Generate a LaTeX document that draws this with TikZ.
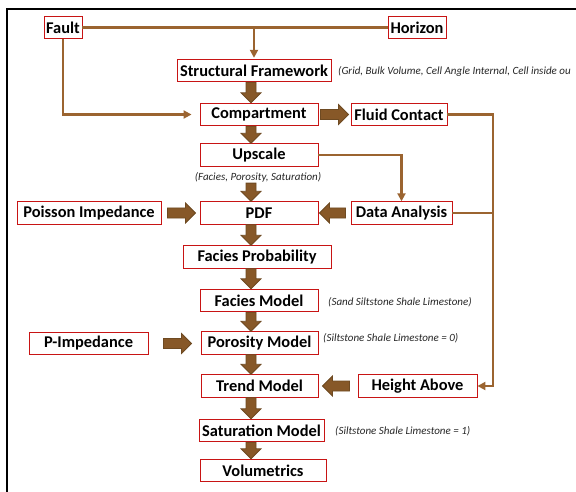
\documentclass[tikz,border=0pt]{standalone}
\usepackage{fontspec}
\setmainfont{Carlito}
\usetikzlibrary{arrows.meta,calc}
\definecolor{boxred}{RGB}{200,20,20}
\definecolor{lnbrown}{RGB}{155,100,48}
\definecolor{fatfill}{RGB}{135,88,40}
\definecolor{fatedge}{RGB}{110,74,34}
\newcommand\fatdown[2]{\filldraw[fatarrow] let \p1=(#1), \p2=(#2) in
  (\x1-5pt,\y1) -- (\x1+5pt,\y1) -- (\x1+5pt,\y2+10pt) -- (\x1+10pt,\y2+10pt) --
  (\x1,\y2) -- (\x1-10pt,\y2+10pt) -- (\x1-5pt,\y2+10pt) -- cycle;}
\newcommand\fatright[2]{\filldraw[fatarrow] let \p1=(#1), \p2=(#2) in
  (\x1,\y1+5pt) -- (\x2-10pt,\y1+5pt) -- (\x2-10pt,\y1+10pt) -- (\x2,\y1) --
  (\x2-10pt,\y1-10pt) -- (\x2-10pt,\y1-5pt) -- (\x1,\y1-5pt) -- cycle;}
\newcommand\fatleft[2]{\filldraw[fatarrow] let \p1=(#1), \p2=(#2) in
  (\x1,\y1+5pt) -- (\x2+10pt,\y1+5pt) -- (\x2+10pt,\y1+10pt) -- (\x2,\y1) --
  (\x2+10pt,\y1-10pt) -- (\x2+10pt,\y1-5pt) -- (\x1,\y1-5pt) -- cycle;}
\begin{document}
\begin{tikzpicture}[x=1pt,y=-1pt,
  box/.style={draw=boxred, line width=0.9pt, fill=white, inner sep=0pt,
    minimum height=22.5pt, font=\bfseries\fontsize{16.4}{18}\selectfont},
  note/.style={inner sep=0pt, font=\itshape\fontsize{11}{13}\selectfont, text=black!85},
  thinline/.style={draw=lnbrown, line width=2.7pt},
  thinarrow/.style={thinline, -{Triangle[length=8pt,width=8pt]}},
  fatarrow/.style={fill=fatfill, draw=fatedge, line width=0.8pt, line join=miter}]
\useasboundingbox (0,0) rectangle (576,492);
\draw[line width=2pt] (7,492) -- (7,9) -- (576,9);
\coordinate (spine) at (251,0);
\coordinate (bus) at (493,0);
% boxes
\node[box, minimum width=38pt] (fault) at (63,27.5) {Fault};
\node[box, minimum width=58pt] (hor) at (417,27.5) {Horizon};
\node[box, minimum width=154pt] (sf) at (254,70.5) {Structural Framework};
\node[box, minimum width=118pt] (comp) at (259,114.5) {Compartment};
\node[box, minimum width=96pt] (fc) at (399,114.5) {Fluid Contact};
\node[box, minimum width=118pt] (up) at (259,155) {Upscale};
\node[box, minimum width=118pt] (pdf) at (259,213) {PDF};
\node[box, minimum width=144pt] (poi) at (89,213) {Poisson Impedance};
\node[box, minimum width=101pt] (da) at (401.5,213) {Data Analysis};
\node[box, minimum width=148pt] (fp) at (257,257) {Facies Probability};
\node[box, minimum width=118pt] (fm) at (259,300.5) {Facies Model};
\node[box, minimum width=117pt] (por) at (259.5,343) {Porosity Model};
\node[box, minimum width=119pt] (pimp) at (88.5,343.5) {P-Impedance};
\node[box, minimum width=117pt] (trend) at (259.5,386) {Trend Model};
\node[box, minimum width=119pt] (ha) at (417.5,386) {Height Above};
\node[box, minimum width=125pt] (sat) at (261.5,430.5) {Saturation Model};
\node[box, minimum width=126pt] (vol) at (263,470.5) {Volumetrics};
% notes
\node[note, anchor=west] (sfnote) at (338,71) {(Grid, Bulk Volume, Cell Angle Internal, Cell inside ou};
\node[note] (upnote) at (258,177) {(Facies, Porosity, Saturation)};
\node[note, anchor=west] (fmnote) at (328,302) {(Sand Siltstone Shale Limestone)};
\node[note, anchor=west] (pornote) at (323,338) {(Siltstone Shale Limestone = 0)};
\node[note, anchor=west] (satnote) at (335,431) {(Siltstone Shale Limestone = 1)};
% thin connectors
\draw[thinline] (fault.east) -- (hor.west);
\draw[thinarrow, shorten >=1pt] (sf.north |- fault.east) -- (sf.north);
\draw[thinarrow, shorten >=8pt] (fault.south) |- (comp.west);
\draw[thinarrow] (fc.east) -| (bus |- ha.east) -- (ha.east);
\draw[thinline] (da.east) -- (bus |- da.east);
\draw[thinarrow] (up.east) -| (da.north);
% fat arrows
\fatdown{sf.south -| spine}{comp.north -| spine}
\fatdown{comp.south -| spine}{up.north -| spine}
\fatdown{$(upnote.south -| spine)+(0,1)$}{pdf.north -| spine}
\fatdown{pdf.south -| spine}{fp.north -| spine}
\fatdown{fp.south -| spine}{fm.north -| spine}
\fatdown{fm.south -| spine}{por.north -| spine}
\fatdown{por.south -| spine}{trend.north -| spine}
\fatdown{trend.south -| spine}{sat.north -| spine}
\fatdown{sat.south -| spine}{vol.north -| spine}
\fatright{$(comp.east)+(2,0)$}{$(fc.west)+(-2,0)$}
\fatright{$(poi.east)+(6,0)$}{$(pdf.west)+(-4,0)$}
\fatleft{$(da.west)+(-5,0)$}{$(pdf.east)+(1,0)$}
\fatright{$(pimp.east)+(15,0)$}{$(por.west)+(-9,0)$}
\fatleft{$(ha.west)+(-8,0)$}{$(trend.east)+(4,0)$}
\end{tikzpicture}
\end{document}
